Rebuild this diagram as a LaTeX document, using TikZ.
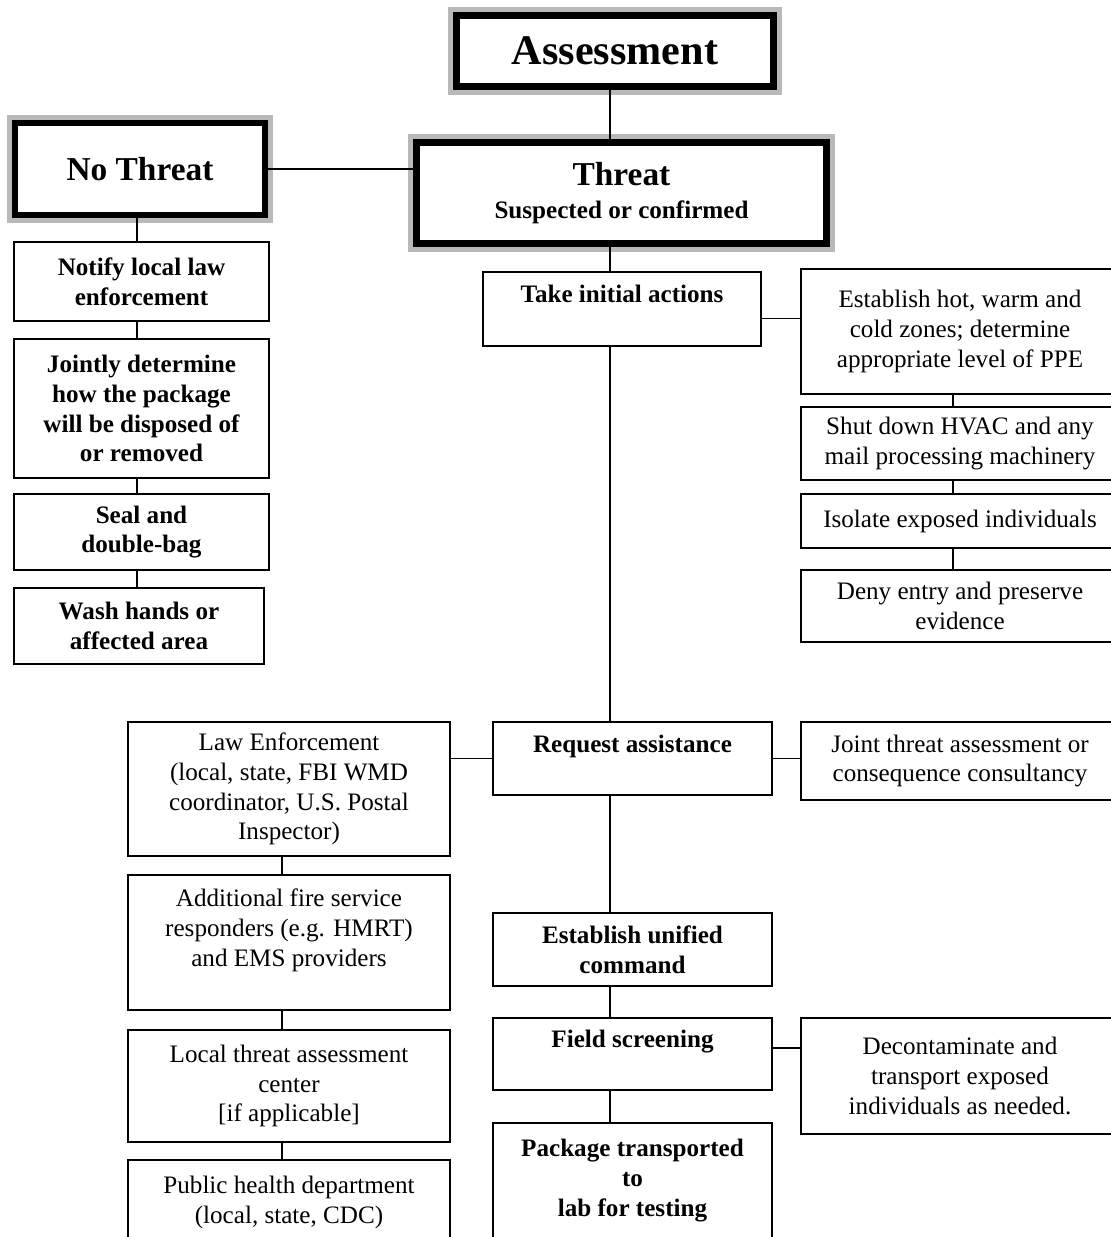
\documentclass[tikz,border=0pt]{standalone}
\usepackage{fontspec}
\setmainfont{Liberation Serif}
\usetikzlibrary{calc}

\newcommand{\boxfont}{\fontsize{14.3}{17}\selectfont}

\begin{document}
\begin{tikzpicture}[
  x=0.02cm, y=-0.02cm,
  box/.style={rectangle, draw, line width=1.1pt, fill=white, align=center, inner sep=1pt, font=\boxfont},
  bbox/.style={box, font=\boxfont\bfseries},
  head/.style={rectangle, draw, line width=3.7pt, fill=white, align=center, inner sep=1pt,
    preaction={draw=gray!55, line width=9.4pt}},
  link/.style={line width=1.1pt}
]
\path[use as bounding box, clip] (0,0) rectangle (1111,1237);

% spines
\coordinate (trunk) at (610,0);
\coordinate (nspine) at (137,0);
\coordinate (lspine) at (282,0);
\coordinate (rspine) at (953,0);

% headings
\node (assess) [head, minimum width=6.34cm, minimum height=1.43cm, font=\fontsize{24}{28}\selectfont\bfseries] at (615,51) {Assessment};
\node (threat) [head, minimum width=8.2cm, minimum height=2.02cm] at (621.5,193) {{\fontsize{19}{22}\selectfont\bfseries Threat}\\[6.5pt]{\boxfont\bfseries Suspected or confirmed}};
\node (nothreat) [head, minimum width=5cm, minimum height=1.84cm, font=\fontsize{19}{22}\selectfont\bfseries] at (140,169) {No Threat};

% no threat branch
\node (notify) [bbox, minimum width=5.1cm, minimum height=1.58cm] at (141.5,281.5) {Notify local law\\enforcement};
\node (jointly) [bbox, minimum width=5.1cm, minimum height=2.78cm] at (141.5,408.5) {Jointly determine\\how the package\\will be disposed of\\or removed};
\node (seal) [bbox, minimum width=5.1cm, minimum height=1.52cm] at (141.5,532) {Seal and\\double-bag};
\node (wash) [bbox, minimum width=5cm, minimum height=1.52cm] at (139,626) {Wash hands or\\affected area};

% threat branch
\node (take) [bbox, minimum width=5.56cm, minimum height=1.48cm] at (622,309) {Take initial actions\\~};
\node (hot) [box, minimum width=6.36cm, minimum height=2.5cm] at (960,331.5) {Establish hot, warm and\\cold zones; determine\\appropriate level of PPE};
\node (hvac) [box, minimum width=6.36cm, minimum height=1.46cm] at (960,443.5) {Shut down HVAC and any\\mail processing machinery};
\node (isolate) [box, minimum width=6.36cm, minimum height=1.08cm] at (960,521) {Isolate exposed individuals};
\node (deny) [box, minimum width=6.36cm, minimum height=1.44cm] at (960,606) {Deny entry and preserve\\evidence};

\node (request) [bbox, minimum width=5.58cm, minimum height=1.46cm] at (632.5,758.5) {Request assistance\\~};
\node (law) [box, minimum width=6.44cm, minimum height=2.68cm] at (289,789) {Law Enforcement\\(local, state, FBI WMD\\coordinator, U.S. Postal\\Inspector)};
\node (joint) [box, minimum width=6.36cm, minimum height=1.56cm] at (960,761) {Joint threat assessment or\\consequence consultancy};
\node (fire) [box, minimum width=6.44cm, minimum height=2.7cm] at (289,942.5) {Additional fire service\\responders (e.g. HMRT)\\and EMS providers\\~};
\node (local) [box, minimum width=6.44cm, minimum height=2.24cm] at (289,1086) {Local threat assessment\\center\\{[if applicable]}};
\node (health) [box, minimum width=6.44cm, minimum height=1.7cm] at (289,1202.5) {Public health department\\(local, state, CDC)};

\node (unified) [bbox, minimum width=5.58cm, minimum height=1.46cm] at (632.5,949.5) {Establish unified\\command};
\node (screen) [bbox, minimum width=5.58cm, minimum height=1.44cm] at (632.5,1054) {Field screening\\~};
\node (decon) [box, minimum width=6.36cm, minimum height=2.32cm] at (960,1076) {Decontaminate and\\transport exposed\\individuals as needed.};
\node (package) [bbox, minimum width=5.58cm, minimum height=2.8cm] at (632.5,1193) {Package transported\\to\\lab for testing\\~};

% connectors
\draw [link] (assess.south -| trunk) -- (threat.north -| trunk);
\draw [link] (nothreat.east) -- (nothreat.east -| threat.west);
\foreach \a/\b in {nothreat/notify, notify/jointly, jointly/seal, seal/wash}
  \draw [link] (\a.south -| nspine) -- (\b.north -| nspine);
\foreach \a/\b in {threat/take, take/request, request/unified, unified/screen, screen/package}
  \draw [link] (\a.south -| trunk) -- (\b.north -| trunk);
\foreach \a/\b in {hot/hvac, hvac/isolate, isolate/deny}
  \draw [link] (\a.south -| rspine) -- (\b.north -| rspine);
\foreach \a/\b in {law/fire, fire/local, local/health}
  \draw [link] (\a.south -| lspine) -- (\b.north -| lspine);

\coordinate (tk) at ([yshift=-0.19cm]take.east);
\draw [link] (tk) -- (tk -| hot.west);
\draw [link] (request.west) -- (request.west -| law.east);
\draw [link] (request.east) -- (request.east -| joint.west);
\coordinate (fs) at ([yshift=0.12cm]screen.east);
\draw [link] (fs) -- (fs -| decon.west);

\end{tikzpicture}
\end{document}
